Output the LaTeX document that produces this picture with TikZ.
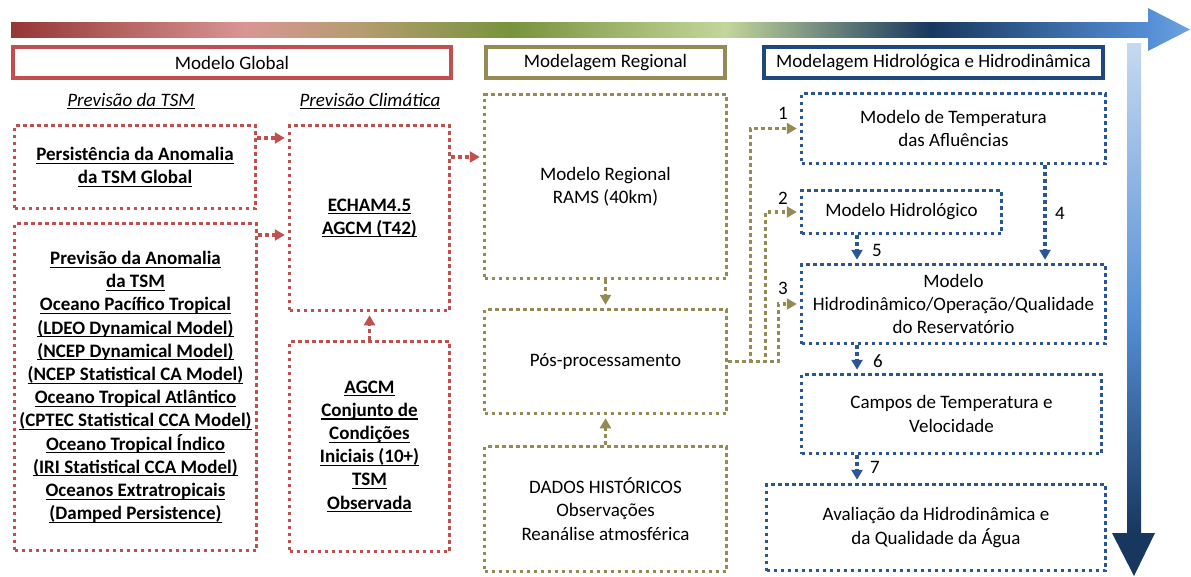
\documentclass[tikz,border=0pt]{standalone}
\usepackage{fontspec}
\setmainfont{Carlito}
\usetikzlibrary{arrows.meta}

\definecolor{redc}{HTML}{C0504D}
\definecolor{olivec}{HTML}{948A54}
\definecolor{navyc}{HTML}{1F497D}
\definecolor{dotblue}{HTML}{2B5694}
% colours of the top time-line arrow
\definecolor{ga}{HTML}{953735}
\definecolor{gb}{HTML}{D99694}
\definecolor{gc}{HTML}{B49C70}
\definecolor{gd}{HTML}{77933C}
\definecolor{ge}{HTML}{C3D69B}
\definecolor{gf}{HTML}{17375E}
\definecolor{gg}{HTML}{558ED5}
\definecolor{gh}{HTML}{6FA3E0}
% colours of the right-hand vertical arrow
\definecolor{va}{HTML}{C6D9F1}
\definecolor{vb}{HTML}{558ED5}
\definecolor{vc}{HTML}{17375E}

% underline at a fixed depth below the baseline
\newcommand\ulin[1]{\leavevmode\setbox0\hbox{#1}\rlap{\rule[-3.2pt]{\wd0}{1.1pt}}\box0}

\begin{document}
\begin{tikzpicture}[x=1pt,y=-1pt,
  txt/.style={font=\fontsize{19}{23.2}\selectfont, align=center, inner sep=0pt},
  hdr/.style={txt, draw, line width=4.5pt, minimum height=31pt},
  dotbox/.style={txt, draw, line width=3.5pt, dash pattern=on 3.5pt off 3.5pt},
  redbox/.style={dotbox, draw=redc, font=\fontsize{19}{23.2}\selectfont\bfseries},
  olivebox/.style={dotbox, draw=olivec},
  bluebox/.style={dotbox, draw=dotblue},
  link/.style={line width=3.5pt, dash pattern=on 3.5pt off 3.5pt, shorten >=3pt,
    -{Triangle[length=10pt,width=11pt]}},
]
\useasboundingbox (0,0) rectangle (1191,576);
\fill[white] (0,0) rectangle (1191,576);

% time-line arrow along the top
\shade[left color=ga, right color=gb] (11,22) rectangle (246.5,37);
\shade[left color=gb, right color=gc] (246,22) rectangle (360.5,37);
\shade[left color=gc, right color=gd] (360,22) rectangle (510.5,37);
\shade[left color=gd, right color=ge] (510,22) rectangle (725.5,37);
\shade[left color=ge, right color=gf] (725,22) rectangle (930.5,37);
\shade[left color=gf, right color=gg] (930,22) rectangle (1148.5,37);
\shade[left color=gg, right color=gh] (1148,8) -- (1190,29.5) -- (1148,51) -- cycle;

% vertical arrow on the right
\shade[top color=va, bottom color=vb] (1127,43) rectangle (1141,320.5);
\shade[top color=vb, bottom color=vc] (1127,320) rectangle (1141,533.5);
\fill[vc] (1112,533) -- (1155,533) -- (1134,576) -- cycle;

% column headers
\node[hdr, draw=redc, minimum width=438pt] (hg) at (232,62.5) {Modelo Global};
\node[hdr, draw=olivec, minimum width=239pt] (hr) at (605.5,62.5) {Modelagem Regional};
\node[hdr, draw=navyc, minimum width=339pt] (hh) at (933.5,62.5) {Modelagem Hidrológica e Hidrodinâmica};

\node[txt, font=\fontsize{19}{23.2}\selectfont\itshape] (st) at (131,101) {\ulin{Previsão da TSM}};
\node[txt, font=\fontsize{19}{23.2}\selectfont\itshape] (sc) at (370,101) {\ulin{Previsão Climática}};

% global model boxes
\node[redbox, minimum width=241pt, minimum height=83pt] (pers) at (135,167)
  {\ulin{Persistência da Anomalia}\\\ulin{da TSM Global}};
\node[redbox, minimum width=242pt, minimum height=327pt] (prev) at (135.5,387)
  {\ulin{Previsão da Anomalia}\\\ulin{da TSM}\\\ulin{Oceano Pacífico Tropical}\\
   \ulin{(LDEO Dynamical Model)}\\\ulin{(NCEP Dynamical Model)}\\
   \ulin{(NCEP Statistical CA Model)}\\\ulin{Oceano Tropical Atlântico}\\
   \ulin{(CPTEC Statistical CCA Model)}\\\ulin{Oceano Tropical Índico}\\
   \ulin{(IRI Statistical CCA Model)}\\\ulin{Oceanos Extratropicais}\\
   \ulin{(Damped Persistence)}};
\node[redbox, minimum width=160pt, minimum height=185pt] (echam) at (369.5,218)
  {\ulin{ECHAM4.5}\\\ulin{AGCM (T42)}};
\node[redbox, minimum width=160pt, minimum height=210pt] (agcm) at (369.5,446.5)
  {\ulin{AGCM}\\\ulin{Conjunto de}\\\ulin{Condições}\\\ulin{Iniciais (10+)}\\
   \ulin{TSM}\\\ulin{Observada}};

% regional model boxes
\node[olivebox, minimum width=242pt, minimum height=184pt] (reg) at (605.5,186.5)
  {Modelo Regional\\RAMS (40km)};
\node[olivebox, minimum width=242pt, minimum height=104pt] (pos) at (605.5,361.5)
  {Pós-processamento};
\node[olivebox, minimum width=242pt, minimum height=125pt] (dados) at (605.5,509)
  {DADOS HISTÓRICOS\\Observações\\Reanálise atmosférica};

% hydrological and hydrodynamic boxes
\node[bluebox, minimum width=304pt, minimum height=70pt] (temp) at (953.5,128.5)
  {Modelo de Temperatura\\das Afluências};
\node[bluebox, minimum width=200pt, minimum height=43pt] (hidro) at (901.5,212)
  {Modelo Hidrológico};
\node[bluebox, minimum width=304pt, minimum height=79pt] (hdin) at (953.5,304)
  {Modelo\\Hidrodinâmico/Operação/Qualidade\\do Reservatório};
\node[bluebox, minimum width=300pt, minimum height=79pt] (campos) at (951.5,414)
  {Campos de Temperatura e\\Velocidade};
\node[bluebox, minimum width=339pt, minimum height=86pt] (aval) at (936,527.5)
  {Avaliação da Hidrodinâmica e\\da Qualidade da Água};

% global model links
\coordinate (p1) at ([yshift=29pt]pers.east);
\coordinate (p2) at ([yshift=152pt]prev.east);
\coordinate (p3) at ([yshift=61pt]echam.east);
\draw[link, draw=redc] (p1) -- (p1 -| echam.west);
\draw[link, draw=redc] (p2) -- (p2 -| echam.west);
\draw[link, draw=redc] (p3) -- (p3 -| reg.west);
\draw[link, draw=redc] (agcm.north) -- (echam.south);

% regional model links
\draw[link, draw=olivec] (reg.south) -- (pos.north);
\draw[link, draw=olivec] (dados.north) -- (pos.south);
\draw[link, draw=olivec] (pos.east) -- ++(22,0) |- (temp.west);
\draw[link, draw=olivec] (pos.east) -- ++(37,0) |- (hidro.west);
\draw[link, draw=olivec] (pos.east) -- ++(50,0) |- (hdin.west);

% hydrological chain links
\draw[link, draw=dotblue] (temp.south -| 1045,0) -- (hdin.north -| 1045,0);
\draw[link, draw=dotblue] (hidro.south -| 857,0) -- (hdin.north -| 857,0);
\draw[link, draw=dotblue] (hdin.south -| 857,0) -- (campos.north -| 857,0);
\draw[link, draw=dotblue] (campos.south -| 857,0) -- (aval.north -| 857,0);

% step numbers
\node[txt] (n1) at (783,113) {1};
\node[txt] (n2) at (783,198) {2};
\node[txt] (n3) at (783,288) {3};
\node[txt] (n4) at (1060,213) {4};
\node[txt] (n5) at (877,250) {5};
\node[txt] (n6) at (878,361) {6};
\node[txt] (n7) at (875,467) {7};
\end{tikzpicture}
\end{document}
